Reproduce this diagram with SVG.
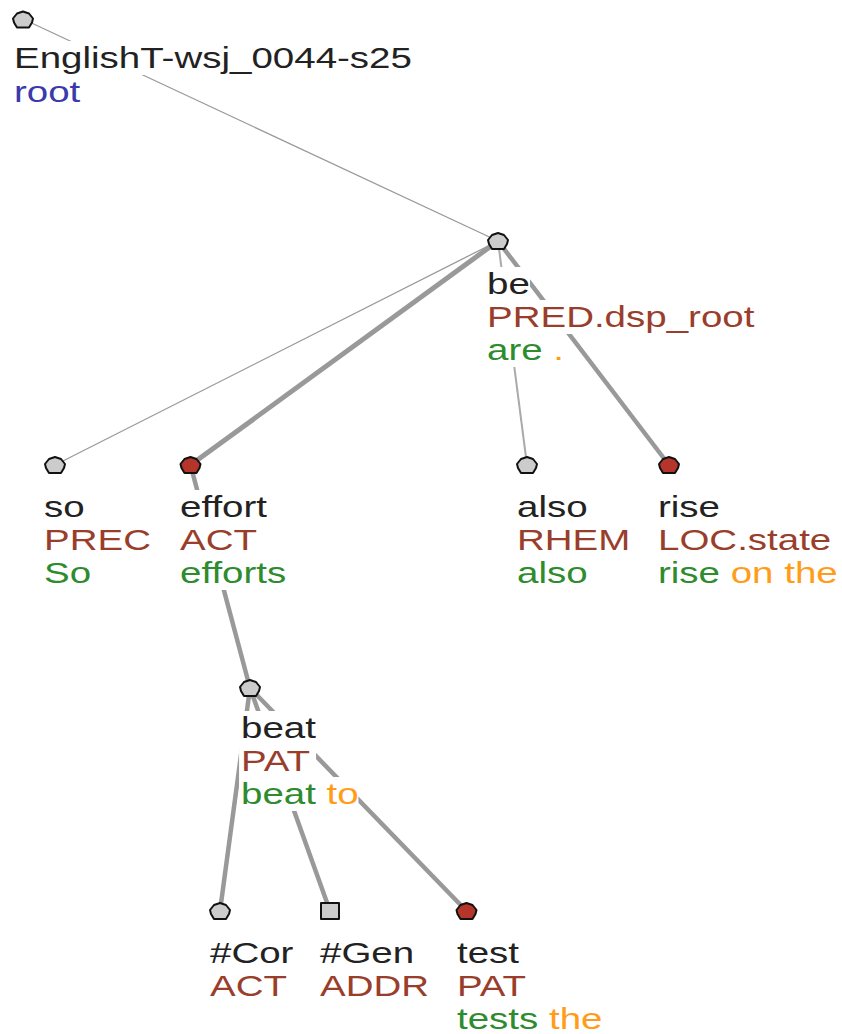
<svg xmlns="http://www.w3.org/2000/svg" width="842" height="1034" viewBox="0 0 842 1034">
  <defs>
    <style>
      text { font-family: "Liberation Sans", Arial, sans-serif; font-size: 30px; }
      .bg { fill: #fff; }
      .t { fill: #222; }
      .f { fill: #9a3e2c; }
      .w { fill: #2e8b2e; }
      .o { fill: #ff9d1a; }
      .r { fill: #3a3aaa; }
      .thin { stroke: #999; stroke-width: 1.3; fill: none; }
      .mid { stroke: #aaa; stroke-width: 2; fill: none; }
      .thick { stroke: #999; stroke-width: 4.5; fill: none; }
      .node { stroke: #111; stroke-width: 2; stroke-linejoin: round; }
      .gray { fill: #cccccc; }
      .red { fill: #b5352b; }
    </style>
    <path id="penta" d="M-6,8 L6,8 L9,3 L10,-1 L6,-6 L0,-8 L-6,-6 L-10,-1 L-9,3 Z"/>
  </defs>
  <rect width="842" height="1034" fill="#fff"/>

  <!-- edges between tree nodes -->
  <g id="connectors">
    <line class="thin" x1="23" y1="19" x2="498" y2="241"/>
    <line class="thin" x1="498" y1="241" x2="55" y2="465"/>
    <line class="thick" x1="498" y1="241" x2="190.5" y2="465" style="stroke-width:5"/>
    <line class="mid" x1="498" y1="241" x2="527" y2="465"/>
    <line class="thick" x1="498" y1="241" x2="669" y2="465"/>
    <line class="thick" x1="190.5" y1="465" x2="250" y2="688"/>
    <line class="thick" x1="250" y1="688" x2="220" y2="911"/>
    <line class="thick" x1="250" y1="688" x2="330" y2="911"/>
    <line class="thick" x1="250" y1="688" x2="466.5" y2="911"/>
  </g>

  <!-- root -->
  <g id="n-root">
    <use href="#penta" x="23" y="19.5" class="node gray"/>
    <g transform="translate(14 0) scale(1.2833 1)">
      <rect class="bg" x="-1.5" y="41" width="313.5" height="34"/>
      <rect class="bg" x="-1.5" y="75" width="53" height="34"/>
      <text class="t" x="0" y="68">EnglishT-wsj_0044-s25</text>
      <text class="r" x="0" y="102">root</text>
    </g>
  </g>

  <!-- be -->
  <g id="n-be">
    <use href="#penta" x="498" y="241" class="node gray"/>
    <g transform="translate(487 0) scale(1.2833 1)">
      <rect class="bg" x="-1.5" y="267" width="35" height="34"/>
      <rect class="bg" x="-1.5" y="300" width="210" height="34"/>
      <rect class="bg" x="-1.5" y="333" width="62" height="34"/>
      <text class="t" x="0" y="294">be</text>
      <text class="f" x="0" y="327">PRED.dsp_root</text>
      <text x="0" y="360"><tspan class="w">are</tspan><tspan class="o"> .</tspan></text>
    </g>
  </g>

  <!-- so -->
  <g id="n-so">
    <use href="#penta" x="55" y="465" class="node gray"/>
    <g transform="translate(44 0) scale(1.2833 1)">
      <rect class="bg" x="-1.5" y="490" width="33" height="34"/>
      <rect class="bg" x="-1.5" y="523" width="85" height="34"/>
      <rect class="bg" x="-1.5" y="556" width="38" height="34"/>
      <text class="t" x="0" y="517">so</text>
      <text class="f" x="0" y="550">PREC</text>
      <text class="w" x="0" y="583">So</text>
    </g>
  </g>

  <!-- effort -->
  <g id="n-effort">
    <use href="#penta" x="190.5" y="465" class="node red"/>
    <g transform="translate(180 0) scale(1.2833 1)">
      <rect class="bg" x="-1.5" y="490" width="70" height="34"/>
      <rect class="bg" x="-1.5" y="523" width="62" height="34"/>
      <rect class="bg" x="-1.5" y="556" width="85" height="34"/>
      <text class="t" x="0" y="517">effort</text>
      <text class="f" x="0" y="550">ACT</text>
      <text class="w" x="0" y="583">efforts</text>
    </g>
  </g>

  <!-- also -->
  <g id="n-also">
    <use href="#penta" x="527" y="465" class="node gray"/>
    <g transform="translate(517 0) scale(1.2833 1)">
      <rect class="bg" x="-1.5" y="490" width="57" height="34"/>
      <rect class="bg" x="-1.5" y="523" width="90" height="34"/>
      <rect class="bg" x="-1.5" y="556" width="57" height="34"/>
      <text class="t" x="0" y="517">also</text>
      <text class="f" x="0" y="550">RHEM</text>
      <text class="w" x="0" y="583">also</text>
    </g>
  </g>

  <!-- rise -->
  <g id="n-rise">
    <use href="#penta" x="669" y="465" class="node red"/>
    <g transform="translate(658 0) scale(1.2833 1)">
      <rect class="bg" x="-1.5" y="490" width="50" height="34"/>
      <rect class="bg" x="-1.5" y="523" width="137" height="34"/>
      <rect class="bg" x="-1.5" y="556" width="142" height="34"/>
      <text class="t" x="0" y="517">rise</text>
      <text class="f" x="0" y="550">LOC.state</text>
      <text x="0" y="583"><tspan class="w">rise</tspan><tspan class="o"> on the</tspan></text>
    </g>
  </g>

  <!-- beat -->
  <g id="n-beat">
    <use href="#penta" x="250" y="688" class="node gray"/>
    <g transform="translate(241 0) scale(1.2833 1)">
      <rect class="bg" x="-1.5" y="711" width="60" height="34"/>
      <rect class="bg" x="-1.5" y="744" width="60" height="34"/>
      <rect class="bg" x="-1.5" y="777" width="93" height="34"/>
      <text class="t" x="0" y="738">beat</text>
      <text class="f" x="0" y="771">PAT</text>
      <text x="0" y="804"><tspan class="w">beat</tspan><tspan class="o"> to</tspan></text>
    </g>
  </g>

  <!-- #Cor -->
  <g id="n-cor">
    <use href="#penta" x="220" y="911" class="node gray"/>
    <g transform="translate(210 0) scale(1.2833 1)">
      <rect class="bg" x="-1.5" y="936" width="67" height="34"/>
      <rect class="bg" x="-1.5" y="969" width="62" height="34"/>
      <text class="t" x="0" y="963">#Cor</text>
      <text class="f" x="0" y="996">ACT</text>
    </g>
  </g>

  <!-- #Gen -->
  <g id="n-gen">
    <rect x="321" y="903" width="18" height="16" class="node gray"/>
    <g transform="translate(320 0) scale(1.2833 1)">
      <rect class="bg" x="-1.5" y="936" width="75" height="34"/>
      <rect class="bg" x="-1.5" y="969" width="87" height="34"/>
      <text class="t" x="0" y="963">#Gen</text>
      <text class="f" x="0" y="996">ADDR</text>
    </g>
  </g>

  <!-- test -->
  <g id="n-test">
    <use href="#penta" x="466.5" y="911" class="node red"/>
    <g transform="translate(457 0) scale(1.2833 1)">
      <rect class="bg" x="-1.5" y="936" width="50" height="34"/>
      <rect class="bg" x="-1.5" y="969" width="60" height="34"/>
      <rect class="bg" x="-1.5" y="1002" width="115" height="34"/>
      <text class="t" x="0" y="963">test</text>
      <text class="f" x="0" y="996">PAT</text>
      <text x="0" y="1029"><tspan class="w">tests</tspan><tspan class="o"> the</tspan></text>
    </g>
  </g>
</svg>
